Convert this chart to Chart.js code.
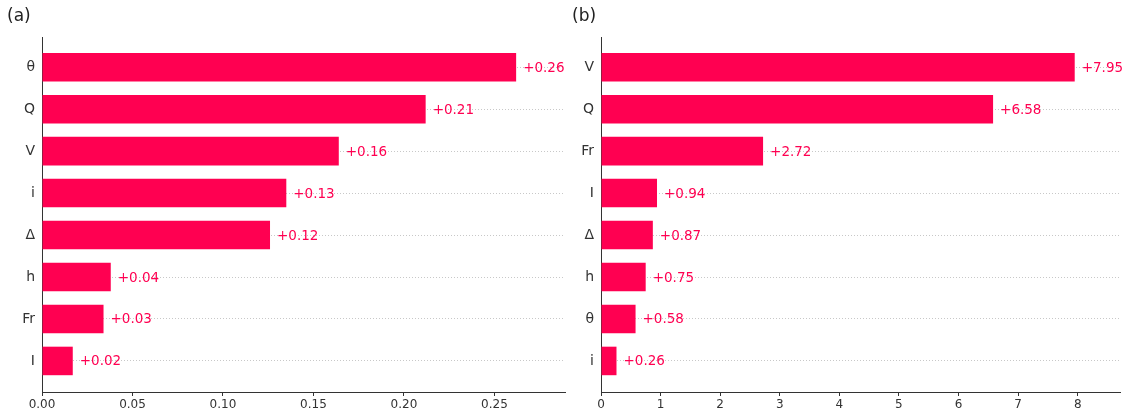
<!DOCTYPE html>
<html>
<head>
<meta charset="utf-8">
<script src="https://cdn.jsdelivr.net/npm/chart.js@4/dist/chart.umd.min.js"></script>
<style>
  body { margin: 0; background: #fff; width: 1125px; height: 417px; overflow: hidden; position: relative; font-family: "DejaVu Sans", sans-serif; }
  .panel { position: absolute; top: 0; height: 417px; }
  .tag { position: absolute; top: 5px; font-size: 17px; color: #222; }
</style>
</head>
<body>
<div class="panel" style="left:0;width:570px"><canvas id="chartA"></canvas></div>
<div class="panel" style="left:560px;width:565px"><canvas id="chartB"></canvas></div>
<div class="tag" style="left:7px">(a)</div>
<div class="tag" style="left:572px">(b)</div>
<script>
// panel (a)
const featuresA = ['θ', 'Q', 'V', 'i', 'Δ', 'h', 'Fr', 'I'];
const valuesA = [0.262, 0.212, 0.164, 0.135, 0.126, 0.038, 0.034, 0.017];
const textA = ['+0.26', '+0.21', '+0.16', '+0.13', '+0.12', '+0.04', '+0.03', '+0.02'];

// panel (b)
const featuresB = ['V', 'Q', 'Fr', 'I', 'Δ', 'h', 'θ', 'i'];
const valuesB = [7.95, 6.58, 2.72, 0.94, 0.87, 0.75, 0.58, 0.26];
const textB = ['+7.95', '+6.58', '+2.72', '+0.94', '+0.87', '+0.75', '+0.58', '+0.26'];

const red = '#ff0051';
const ink = '#333333';

// "+0.26" style labels next to each bar end
const valueLabels = {
  id: 'valueLabels',
  afterDatasetsDraw(chart, args, opts) {
    const ctx = chart.ctx;
    const meta = chart.getDatasetMeta(0);
    ctx.save();
    ctx.font = '13.5px "DejaVu Sans"';
    ctx.fillStyle = red;
    ctx.textBaseline = 'middle';
    meta.data.forEach((bar, i) => {
      ctx.fillText(opts.text[i], bar.x + 7, bar.y + 1);
    });
    ctx.restore();
  }
};

function makeChart(id, features, values, text, xmax, step, yWidth, fmt) {
  return new Chart(document.getElementById(id), {
    type: 'bar',
    data: {
      datasets: [{
        data: values.map((v, i) => ({ x: v, y: i })),
        backgroundColor: red,
        barPercentage: 0.68,
        categoryPercentage: 1
      }]
    },
    plugins: [valueLabels],
    options: {
      indexAxis: 'y',
      responsive: true,
      maintainAspectRatio: false,
      animation: false,
      layout: { padding: { top: 37, right: 5, left: 0, bottom: 0 } },
      plugins: {
        legend: { display: false },
        tooltip: { enabled: false },
        valueLabels: { text: text }
      },
      scales: {
        x: {
          type: 'linear',
          min: 0,
          max: xmax,
          ticks: {
            stepSize: step,
            includeBounds: false,
            color: ink,
            font: { family: 'DejaVu Sans', size: 12 },
            padding: 2,
            callback: v => fmt(v)
          },
          grid: { drawOnChartArea: false, drawTicks: true, tickLength: 4, color: ink },
          border: { color: ink, width: 1 },
          afterFit: s => { s.height = 25; }
        },
        y: {
          type: 'linear',
          reverse: true,
          offset: false,
          min: -0.72,
          max: 7.74,
          afterBuildTicks: s => { s.ticks = features.map((_, i) => ({ value: i })); },
          ticks: {
            color: ink,
            font: { family: 'DejaVu Sans', size: 14 },
            padding: 7,
            callback: v => features[v]
          },
          grid: { offset: false, color: '#c8c8c8', drawTicks: false, lineWidth: 1 },
          border: { color: ink, width: 1, dash: [1, 2] },
          afterFit: s => { s.width = yWidth; }
        }
      }
    }
  });
}

makeChart('chartA', featuresA, valuesA, textA, 0.289, 0.05, 42, v => v.toFixed(2));
makeChart('chartB', featuresB, valuesB, textB, 8.71, 1, 41, v => String(v));
</script>
</body>
</html>
